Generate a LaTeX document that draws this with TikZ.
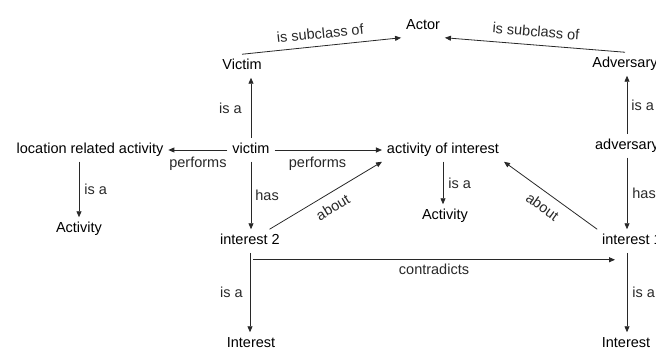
\documentclass[tikz,border=0pt]{standalone}
\usepackage{fontspec}
\setmainfont{Liberation Sans}
\usetikzlibrary{arrows.meta, positioning}
\definecolor{edgegray}{RGB}{40,40,40}
\tikzset{
  concept/.style={
    inner sep=2pt, outer sep=3pt,
    text height=10.5pt, text depth=3pt,
    font=\fontsize{14.5}{17}\selectfont
  },
  rel/.style={inner sep=3pt, font=\fontsize{14.5}{17}\selectfont},
  arrow/.style={line width=0.8pt, -{Triangle[length=6pt,width=5pt]}, color=edgegray},
}

\begin{document}
\begin{tikzpicture}[x=1pt, y=-1pt]
  \useasboundingbox (0,0) rectangle (656,350);
  \clip (0,0) rectangle (656,350);

  \node (actor)        [concept] at (423,26)  {Actor};
  \node (victimcls)    [concept] at (242,66)  {Victim};
  \node (adversarycls) [concept] at (625,64)  {Adversary};
  \node (victim)       [concept] at (251,150) {victim};
  \node (locact)       [concept] at (90,150)  {location related activity};
  \node (aoi)          [concept] at (443,150) {activity of interest};
  \node (adversary)    [concept] at (627,146) {adversary};
  \node (activityL)    [concept] at (79,229)  {Activity};
  \node (activityM)    [concept] at (445,216) {Activity};
  \node (int2)         [concept] at (250,241) {interest 2};
  \node (int1)         [concept] at (632,241) {interest 1};
  \node (interestL)    [concept] at (251,344) {Interest};
  \node (interestR)    [concept] at (626,344) {Interest};

  \draw [arrow] (victimcls.north) -- node[rel, sloped, above=4pt] {is subclass of} (actor.south west);
  \draw [arrow] (adversarycls.north) -- node[rel, sloped, above=5pt] {is subclass of} (actor.south east);
  \draw [arrow] (victim.north) -- node[rel, left=6pt] {is a} (victim.north |- victimcls.south);
  \draw [arrow] (victim.west) -- node[rel, below=4pt] {performs} (locact);
  \draw [arrow] (victim) -- node[rel, below=4pt, pos=0.4] {performs} (aoi);
  \draw [arrow] (victim.south) -- node[rel, right=1pt] {has} (victim.south |- int2.north);
  \draw [arrow] (int2) -- node[rel, sloped, below=5pt] {about} (aoi.south west);
  \draw [arrow] (locact.south -| activityL) -- node[rel, right=2pt] {is a} (activityL);
  \draw [arrow] (aoi.south) -- node[rel, right=2pt] {is a} (aoi.south |- activityM.north);
  \draw [arrow] (adversary.north) -- node[rel, right=1pt] {is a} (adversary.north |- adversarycls.south);
  \draw [arrow] (adversary.south) -- node[rel, right=2pt] {has} (adversary.south |- int1.north);
  \draw [arrow] (int1.north west) -- node[rel, sloped, below=5pt] {about} (aoi.south east);
  \draw [arrow] ([xshift=3pt, yshift=-7pt]int2.south) -- node[rel, below=1pt] {contradicts} ([xshift=-17pt, yshift=-7pt]int1.south);
  \draw [arrow] (int2.south) -- node[rel, left=4pt] {is a} (int2.south |- interestL.north);
  \draw [arrow] (int1.south -| adversary.south) -- node[rel, right=2pt] {is a} (adversary.south |- interestR.north);
\end{tikzpicture}
\end{document}
